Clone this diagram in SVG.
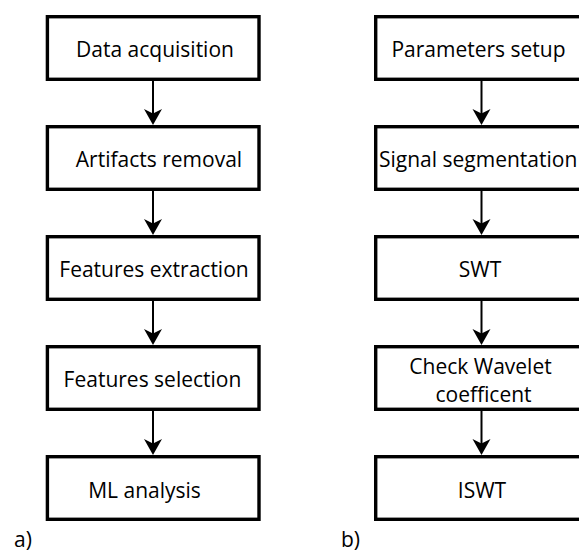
<svg xmlns="http://www.w3.org/2000/svg" width="579" height="554" viewBox="0 0 579 554">
<style>
.box{fill:#fff;stroke:#000;stroke-width:3.4}
.t{font-family:"Open Sans","Noto Sans",sans-serif;font-size:21px;fill:#000;text-anchor:middle}
.lbl{font-family:"Open Sans","Noto Sans",sans-serif;font-size:21px;fill:#000}
.ln{stroke:#000;stroke-width:2;fill:none}
</style>
<defs>
<path id="ah" d="M0,0 L-9,-16 L0,-11.5 L9,-16 Z" fill="#000"/>
</defs>
<rect width="579" height="554" fill="#fff"/>
<g id="connectors">
<line class="ln" x1="153" y1="81" x2="153" y2="115"/><use href="#ah" x="153" y="125"/>
<line class="ln" x1="153" y1="191" x2="153" y2="225"/><use href="#ah" x="153" y="235"/>
<line class="ln" x1="153" y1="301" x2="153" y2="335"/><use href="#ah" x="153" y="345"/>
<line class="ln" x1="153" y1="411" x2="153" y2="445"/><use href="#ah" x="153" y="455"/>
<line class="ln" x1="481.5" y1="81" x2="481.5" y2="115"/><use href="#ah" x="481.5" y="125"/>
<line class="ln" x1="481.5" y1="191" x2="481.5" y2="225"/><use href="#ah" x="481.5" y="235"/>
<line class="ln" x1="481.5" y1="301" x2="481.5" y2="335"/><use href="#ah" x="481.5" y="345"/>
<line class="ln" x1="481.5" y1="411" x2="481.5" y2="445"/><use href="#ah" x="481.5" y="455"/>
</g>
<g id="a1"><rect class="box" x="47.4" y="16.7" width="211.6" height="62.6"/><text class="t" x="155" y="57">Data acquisition</text></g>
<g id="a2"><rect class="box" x="47.4" y="126.7" width="211.6" height="62.6"/><text class="t" x="159" y="167">Artifacts removal</text></g>
<g id="a3"><rect class="box" x="47.4" y="236.7" width="211.6" height="62.6"/><text class="t" x="154" y="277">Features extraction</text></g>
<g id="a4"><rect class="box" x="47.4" y="346.7" width="211.6" height="62.6"/><text class="t" x="152.5" y="387">Features selection</text></g>
<g id="a5"><rect class="box" x="47.4" y="456.7" width="211.6" height="62.6"/><text class="t" x="144.5" y="497.5">ML analysis</text></g>
<g id="b1"><rect class="box" x="375.7" y="16.7" width="211.6" height="62.6"/><text class="t" x="478.5" y="57">Parameters setup</text></g>
<g id="b2"><rect class="box" x="375.7" y="126.7" width="211.6" height="62.6"/><text class="t" x="379" y="167" style="text-anchor:start">Signal segmentation</text></g>
<g id="b3"><rect class="box" x="375.7" y="236.7" width="211.6" height="62.6"/><text class="t" x="480" y="277">SWT</text></g>
<g id="b4"><rect class="box" x="375.7" y="346.7" width="211.6" height="62.6"/><text class="t" x="480.5" y="374">Check Wavelet</text><text class="t" x="483.5" y="402">coefficent</text></g>
<g id="b5"><rect class="box" x="375.7" y="456.7" width="211.6" height="62.6"/><text class="t" x="482" y="497.5">ISWT</text></g>
<text class="lbl" x="14" y="547">a)</text>
<text class="lbl" x="341" y="547">b)</text>
</svg>
